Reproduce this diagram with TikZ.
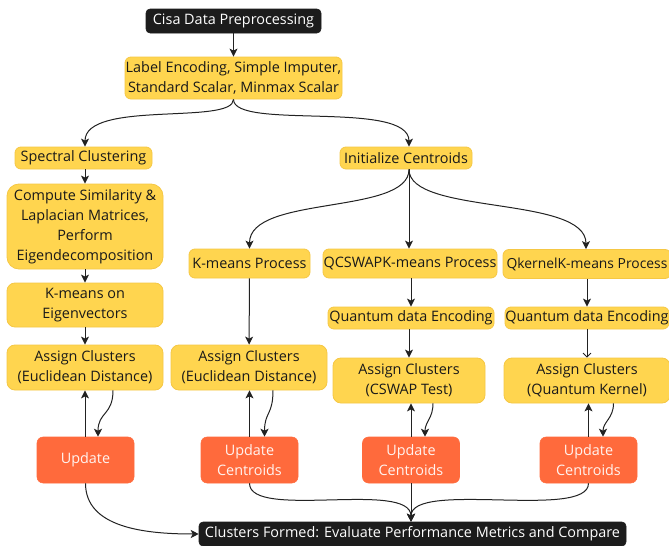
\documentclass[tikz,border=0pt]{standalone}
\usepackage{fontspec}
\setmainfont{Open Sans}
\usetikzlibrary{arrows.meta,calc}
\definecolor{ylw}{HTML}{FFD54F}
\definecolor{ylwd}{HTML}{F5C744}
\definecolor{org}{HTML}{FF6A3C}
\definecolor{blk}{HTML}{1C1C1C}
\definecolor{arr}{HTML}{222222}
\tikzset{
  base/.style={inner sep=0pt, align=center, rounded corners=4.5pt, font=\fontsize{10.8}{15}\selectfont},
  ybox/.style={base, fill=ylw, draw=ylwd, line width=0.6pt, text=black!90},
  obox/.style={base, fill=org, draw=org, text=white!92!org},
  bbox/.style={base, fill=blk, draw=blk, text=white, rounded corners=3pt},
  con/.style={draw=arr, line width=0.75pt, -{Stealth[length=6pt,width=6pt,inset=1.5pt]}},
  sz/.style 2 args={minimum width=#1*0.75pt, minimum height=#2*0.75pt},
}
\begin{document}
\begin{tikzpicture}[x=0.75pt,y=-0.75pt]
\useasboundingbox (0,0) rectangle (669,546);
\node[bbox, sz={175}{24}] (cisa) at (233.5,21) {Cisa Data Preprocessing};
\node[ybox, sz={217}{42}] (label) at (233.5,78) {Label Encoding, Simple Imputer,\\Standard Scalar, Minmax Scalar};
\node[ybox, sz={137}{22}] (spec) at (83.5,158) {Spectral Clustering};
\node[ybox, sz={132}{22}] (init) at (406,158) {Initialize Centroids};
\node[ybox, sz={156}{85}, rounded corners=9pt] (comp) at (85,226.5) {Compute Similarity \&\\Laplacian Matrices,\\Perform\\Eigendecomposition};
\node[ybox, sz={156}{44}, rounded corners=6pt] (kme) at (85,305) {K-means on\\Eigenvectors};
\node[ybox, sz={156}{45}, rounded corners=6pt] (asl) at (85,367.5) {Assign Clusters\\(Euclidean Distance)};
\node[ybox, sz={121}{29}] (kmp) at (249.5,263.5) {K-means Process};
\node[ybox, sz={156}{45}, rounded corners=6pt] (asm) at (249,367.5) {Assign Clusters\\(Euclidean Distance)};
\node[ybox, sz={174}{29}] (qcs) at (410,263.5) {QCSWAPK-means Process};
\node[ybox, sz={166}{22}] (qde2) at (411,318) {Quantum data Encoding};
\node[ybox, sz={152}{45}, rounded corners=6pt] (asc) at (409,380.5) {Assign Clusters\\(CSWAP Test)};
\node[ybox, sz={168}{29}, font=\fontsize{10.4}{15}\selectfont] (qkp) at (587,264) {QkernelK-means Process};
\node[ybox, sz={164}{22}] (qde3) at (587,318) {Quantum data Encoding};
\node[ybox, sz={166}{45}, rounded corners=6pt] (asq) at (587,380.5) {Assign Clusters\\(Quantum Kernel)};
\node[obox, sz={97}{46}] (up1) at (85.5,460) {Update};
\node[obox, sz={97}{46}] (up2) at (249.5,460) {Update\\Centroids};
\node[obox, sz={97}{46}] (up3) at (411,460) {Update\\Centroids};
\node[obox, sz={97}{46}] (up4) at (588.5,460) {Update\\Centroids};
\node[bbox, sz={427}{24}] (cf) at (412.5,534) {Clusters Formed: Evaluate Performance Metrics and Compare};

\coordinate (initb) at ($(init.south)+(3,0)$);
\coordinate (qcst) at ($(qcs.north)+(-1,0)$);
\draw[con] (cisa) -- (label);
\draw[con] (label.south) .. controls ($(label.south)+(0,26)$) and ($(spec.north)+(1.5,-47)$) .. ($(spec.north)+(1.5,0)$);
\draw[con] (label.south) .. controls ($(label.south)+(0,31)$) and ($(init.north)+(3,-47)$) .. ($(init.north)+(3,0)$);
\draw[con] ($(spec.south)+(1.5,0)$) -- (comp.north);
\draw[con] (comp) -- (kme);
\draw[con] (kme) -- (asl);
\draw[con] (initb) .. controls ($(initb)+(0,46)$) and ($(kmp.north)+(0,-54)$) .. (kmp.north);
\draw[con] (initb) -- (qcst);
\draw[con] (initb) .. controls ($(initb)+(0,46)$) and ($(qkp.north)+(-1,-54)$) .. ($(qkp.north)+(-1,0)$);
\draw[con] (kmp) -- (asm);
\draw[con] (qcs.south -| qde2) -- (qde2);
\draw[con] (qde2.south -| asc.north) -- (asc.north);
\draw[con] (qkp.south -| qde3) -- (qde3);
\draw[draw=arr, line width=0.6pt, -{Straight Barb[length=3pt,width=6pt]}] (qde3) -- (qde3 |- asq.north);
% loops
\draw[con] (up1.north -| asl) -- (asl.south);
\draw[con] ($(asl.south)+(28,0)$) .. controls ($(asl.south)+(28,25)$) and ($(up1.north)+(12.5,-25)$) .. ($(up1.north)+(12.5,0)$);
\draw[con] (up2.north) -- (up2.north |- asm.south);
\draw[con] ($(asm.south)+(24,0)$) .. controls ($(asm.south)+(24,25)$) and ($(up2.north)+(15,-25)$) .. ($(up2.north)+(15,0)$);
\draw[con] (up3.north) -- (up3.north |- asc.south);
\draw[con] ($(asc.south)+(24,0)$) .. controls ($(asc.south)+(24,15)$) and ($(up3.north)+(14,-15)$) .. ($(up3.north)+(14,0)$);
\draw[con] (up4.north) -- (up4.north |- asq.south);
\draw[con] ($(asq.south)+(26.5,0)$) .. controls ($(asq.south)+(26.5,15)$) and ($(up4.north)+(14.5,-15)$) .. ($(up4.north)+(14.5,0)$);
% to final
\draw[con] (up1.south) .. controls ($(up1.south)+(0,44)$) and ($(cf.west)+(-55,0)$) .. (cf.west);
\coordinate (cft) at ($(cf.north)+(-1.5,0)$);
\draw[con] (up2.south) .. controls ($(up2.south)+(0,37)$) and ($(cft)+(0,-42)$) .. (cft);
\draw[con] (up3.south) -- (cft);
\draw[con] (up4.south) .. controls ($(up4.south)+(0,37)$) and ($(cft)+(0,-42)$) .. (cft);
\end{tikzpicture}
\end{document}
